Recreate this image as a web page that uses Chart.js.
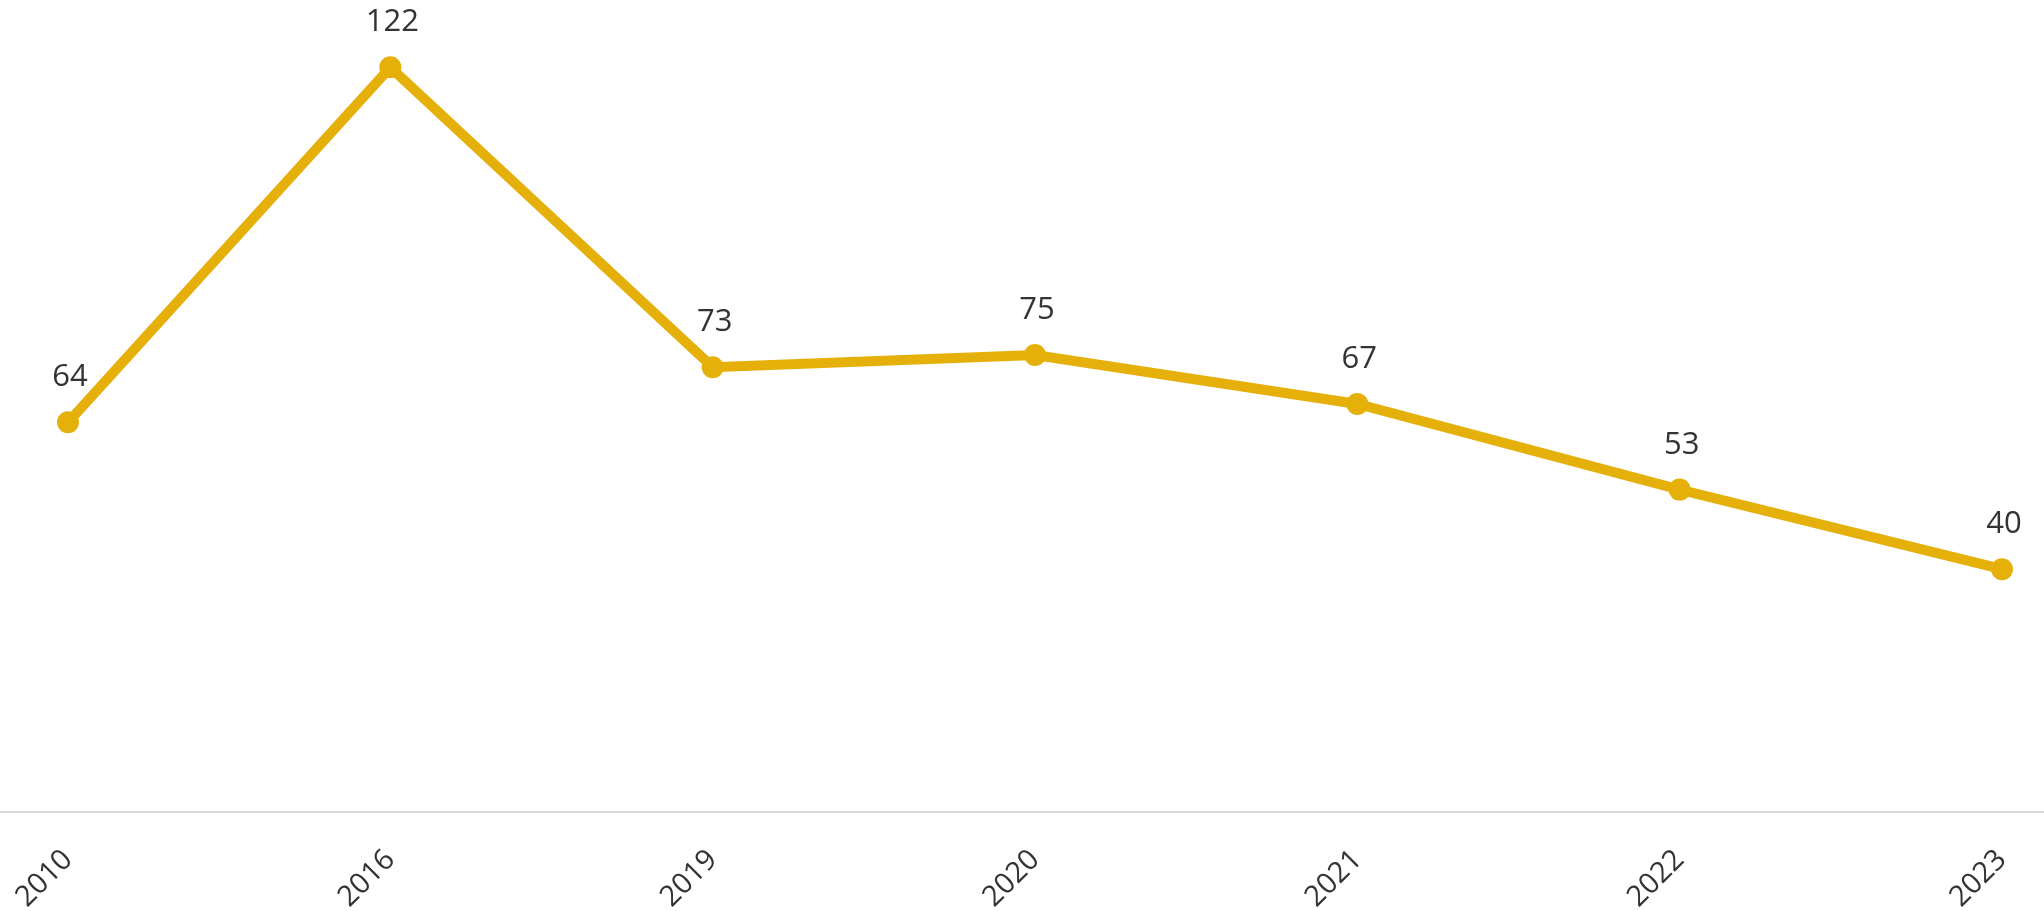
<!DOCTYPE html>
<html>
<head>
<meta charset="utf-8">
<style>
html,body{margin:0;padding:0;background:#fff;}
canvas{display:block;}
</style>
<script src="https://cdn.jsdelivr.net/npm/chart.js@4/dist/chart.umd.min.js"></script>
</head>
<body>
<canvas id="c" width="2044" height="911"></canvas>
<script>
const categories = ["2010", "2016", "2019", "2020", "2021", "2022", "2023"];
const values = [64, 122, 73, 75, 67, 53, 40];
const yMin = 0;
const yMax = 133;

const lineColor = "#E6B00A";
const textColor = "#333333";

function zeroPadding(scale) {
  scale.paddingLeft = 0;
  scale.paddingRight = 0;
  scale.paddingTop = 0;
  scale.paddingBottom = 0;
}

const axisLinePlugin = {
  id: "axisLine",
  beforeDatasetsDraw(chart) {
    const ctx = chart.ctx;
    const y = chart.scales.y.getPixelForValue(0) - 2;
    ctx.save();
    ctx.strokeStyle = "#D9D9D9";
    ctx.lineWidth = 2;
    ctx.beginPath();
    ctx.moveTo(0, y);
    ctx.lineTo(chart.width, y);
    ctx.stroke();
    ctx.restore();
  }
};

const labelPlugin = {
  id: "valueLabels",
  afterDatasetsDraw(chart) {
    const ctx = chart.ctx;
    const meta = chart.getDatasetMeta(0);
    ctx.save();
    ctx.font = "31px 'Open Sans'";
    ctx.fillStyle = textColor;
    ctx.textAlign = "center";
    ctx.textBaseline = "alphabetic";
    meta.data.forEach((pt, i) => {
      ctx.fillText(String(values[i]), pt.x + 2, pt.y - 36);
    });
    ctx.restore();
  }
};

new Chart(document.getElementById("c"), {
  type: "line",
  data: {
    labels: categories,
    datasets: [{
      data: values,
      borderColor: lineColor,
      backgroundColor: lineColor,
      borderWidth: 10,
      pointRadius: 11,
      pointBorderWidth: 0,
      pointBackgroundColor: lineColor,
      tension: 0,
      fill: false,
      clip: false
    }]
  },
  options: {
    responsive: false,
    animation: false,
    devicePixelRatio: 1,
    layout: { autoPadding: false, padding: { left: 68, right: 42, top: 0, bottom: 0 } },
    plugins: { legend: { display: false }, tooltip: { enabled: false } },
    scales: {
      x: {
        offset: false,
        grid: { display: false, drawTicks: false },
        border: { display: false },
        ticks: {
          autoSkip: false,
          minRotation: 45,
          maxRotation: 45,
          padding: 29,
          color: textColor,
          font: { family: "'Open Sans'", size: 29 }
        },
        afterFit(scale) { scale.height = 97; zeroPadding(scale); }
      },
      y: {
        display: false,
        min: yMin,
        max: yMax,
        afterFit(scale) { zeroPadding(scale); }
      }
    }
  },
  plugins: [axisLinePlugin, labelPlugin]
});
</script>
</body>
</html>
